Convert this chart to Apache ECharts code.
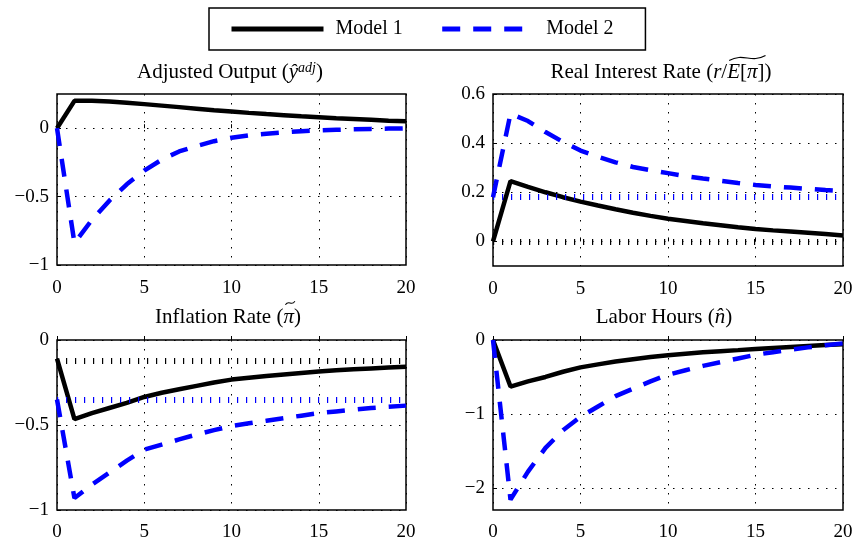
<!DOCTYPE html>
<html>
<head>
<meta charset="utf-8">
<script src="https://cdn.jsdelivr.net/npm/echarts@6/dist/echarts.min.js"></script>
<style>
html, body { margin: 0; padding: 0; background: #fff; }
#chart { width: 856px; height: 539px; }
</style>
</head>
<body>
<div id="chart"></div>
<script>
// quarters after the shock
const steps = [0, 1, 2, 3, 4, 5, 6, 7, 8, 9, 10, 11, 12, 13, 14, 15, 16, 17, 18, 19, 20];

// adjusted output
const outputM1 = [0, 0.2, 0.2, 0.195, 0.186, 0.176, 0.165, 0.154, 0.143, 0.132, 0.122, 0.112, 0.103, 0.095, 0.087, 0.080, 0.073, 0.067, 0.061, 0.055, 0.05];
const outputM2 = [0, -0.84, -0.67, -0.53, -0.41, -0.31, -0.23, -0.17, -0.13, -0.095, -0.07, -0.052, -0.04, -0.03, -0.022, -0.016, -0.012, -0.008, -0.005, -0.003, -0.001];

// real interest rate
const rateM1 = [0, 0.245, 0.222, 0.2, 0.18, 0.162, 0.146, 0.131, 0.117, 0.104, 0.092, 0.083, 0.074, 0.066, 0.058, 0.051, 0.045, 0.04, 0.035, 0.03, 0.024];
const rateM2 = [0.18, 0.52, 0.49, 0.445, 0.405, 0.37, 0.345, 0.322, 0.303, 0.29, 0.278, 0.266, 0.256, 0.247, 0.238, 0.23, 0.224, 0.219, 0.214, 0.209, 0.205];
const rateRefM1 = 0;
const rateRefM2 = 0.185;

// inflation rate
const inflM1 = [-0.11, -0.465, -0.43, -0.4, -0.37, -0.335, -0.31, -0.29, -0.27, -0.25, -0.233, -0.222, -0.212, -0.203, -0.194, -0.185, -0.178, -0.172, -0.167, -0.162, -0.158];
const inflM2 = [-0.35, -0.93, -0.85, -0.78, -0.71, -0.645, -0.615, -0.585, -0.556, -0.53, -0.506, -0.49, -0.475, -0.46, -0.445, -0.43, -0.42, -0.41, -0.4, -0.393, -0.386];
const inflRefM1 = -0.118;
const inflRefM2 = -0.35;

// labor hours
const hoursM1 = [0, -0.63, -0.56, -0.5, -0.43, -0.37, -0.33, -0.29, -0.26, -0.23, -0.205, -0.185, -0.167, -0.151, -0.137, -0.122, -0.108, -0.095, -0.082, -0.069, -0.056];
const hoursM2 = [0, -2.16, -1.78, -1.46, -1.22, -1.04, -0.9, -0.76, -0.66, -0.56, -0.47, -0.41, -0.35, -0.3, -0.25, -0.2, -0.165, -0.13, -0.1, -0.07, -0.045];

const xTicks = [0, 5, 10, 15, 20];
const outputTicks = [-1, -0.5, 0];
const rateTicks = [0, 0.2, 0.4, 0.6];
const inflTicks = [-1, -0.5, 0];
const hoursTicks = [-2, -1, 0];

const FONT = 'Liberation Serif';
const TITLE_SIZE = 21;
const SUP_SIZE = 14;
const BLUE = '#0000ff';

// title pieces: [text, style]; style n = upright, i = italic, s = italic superscript
const outputTitle = [['Adjusted Output (', 'n'], ['ŷ', 'i'], ['adj', 's'], [')', 'n']];
const rateTitle = [['Real Interest Rate (', 'n'], ['r', 'i'], ['/', 'n'], ['E', 'i'], ['[', 'n'], ['π', 'i'], [']', 'n'], [')', 'n']];
const inflTitle = [['Inflation Rate (', 'n'], ['π', 'i'], [')', 'n']];
const hoursTitle = [['Labor Hours (', 'n'], ['n̂', 'i'], [')', 'n']];

const panels = [
  { title: outputTitle, tilde: null, m1: outputM1, m2: outputM2,
    yMin: -1, yMax: 0.25, yTicks: outputTicks, refs: [],
    grid: { left: 57, top: 94, width: 349, height: 171 }, tx: 230, ty: 72 },
  { title: rateTitle, tilde: [3, 6], m1: rateM1, m2: rateM2,
    yMin: -0.1, yMax: 0.6, yTicks: rateTicks, refs: [rateRefM1, rateRefM2],
    grid: { left: 493, top: 94, width: 350, height: 172 }, tx: 661, ty: 72 },
  { title: inflTitle, tilde: [1, 1], m1: inflM1, m2: inflM2,
    yMin: -1, yMax: 0, yTicks: inflTicks, refs: [inflRefM1, inflRefM2],
    grid: { left: 57, top: 340, width: 349, height: 170 }, tx: 228, ty: 317 },
  { title: hoursTitle, tilde: null, m1: hoursM1, m2: hoursM2,
    yMin: -2.3, yMax: 0, yTicks: hoursTicks, refs: [],
    grid: { left: 493, top: 340, width: 350, height: 170 }, tx: 664, ty: 317 }
];

const minus = v => String(v).replace('-', '\u2212');
const dotted = { color: '#000', width: 1, type: [1.5, 7.5] };

const ctx = document.createElement('canvas').getContext('2d');
function pieceWidth(p) {
  const size = p[1] === 's' ? SUP_SIZE : TITLE_SIZE;
  ctx.font = (p[1] === 'n' ? '' : 'italic ') + size + 'px "' + FONT + '"';
  return ctx.measureText(p[0]).width;
}

function refLine(value, color) {
  return {
    silent: true, symbol: 'none', animation: false,
    label: { show: false },
    lineStyle: { color: color, width: 6, type: [1.2, 7.8], cap: 'butt' },
    emphasis: { disabled: true },
    data: [{ yAxis: value }]
  };
}

const grids = [], xAxes = [], yAxes = [], series = [], graphics = [];
panels.forEach((p, i) => {
  grids.push(Object.assign({
    show: true, borderColor: '#000', borderWidth: 1.5, backgroundColor: 'transparent',
    containLabel: false, outerBoundsMode: 'none'
  }, p.grid));
  xAxes.push({
    type: 'value', gridIndex: i, min: 0, max: 20,
    axisLine: { show: false },
    axisTick: { show: true, inside: true, length: 4, customValues: xTicks, lineStyle: { color: '#000' } },
    axisLabel: { customValues: xTicks, fontFamily: FONT, fontSize: 19, color: '#000', margin: i < 2 ? 14 : 13 },
    splitLine: { show: true, lineStyle: dotted }
  });
  yAxes.push({
    type: 'value', gridIndex: i, min: p.yMin, max: p.yMax,
    axisLine: { show: false },
    axisTick: { show: true, inside: true, length: 4, customValues: p.yTicks, lineStyle: { color: '#000' } },
    axisLabel: { customValues: p.yTicks, fontFamily: FONT, fontSize: 19, color: '#000', margin: 8, formatter: minus },
    splitLine: { show: true, lineStyle: dotted }
  });
  const s1 = {
    name: 'Model 1', type: 'line', xAxisIndex: i, yAxisIndex: i,
    data: steps.map((x, k) => [x, p.m1[k]]),
    symbol: 'none', showSymbol: false, z: 3,
    lineStyle: { color: '#000', width: 4.5 }, itemStyle: { color: '#000' }
  };
  const s2 = {
    name: 'Model 2', type: 'line', xAxisIndex: i, yAxisIndex: i,
    data: steps.map((x, k) => [x, p.m2[k]]),
    symbol: 'none', showSymbol: false, z: 4,
    lineStyle: { color: BLUE, width: 4.5, type: [18, 13], cap: 'butt' }, itemStyle: { color: BLUE }
  };
  if (p.refs.length) {
    s1.markLine = refLine(p.refs[0], '#000');
    s2.markLine = refLine(p.refs[1], BLUE);
  }
  series.push(s1, s2);

  // panel title as rich text
  graphics.push({
    type: 'text', x: p.tx, y: p.ty,
    style: {
      text: p.title.map(t => '{' + t[1] + '|' + t[0] + '}').join(''),
      align: 'center', verticalAlign: 'middle',
      fontFamily: FONT, fontSize: TITLE_SIZE, fill: '#000',
      rich: {
        n: { fontFamily: FONT, fontSize: TITLE_SIZE, color: '#000' },
        i: { fontFamily: FONT, fontSize: TITLE_SIZE, fontStyle: 'italic', color: '#000' },
        s: { fontFamily: FONT, fontSize: SUP_SIZE, fontStyle: 'italic', color: '#000', verticalAlign: 'top', padding: [0, 0, 8, 0] }
      }
    }
  });
  // tilde accent over part of the title
  if (p.tilde) {
    const widths = p.title.map(pieceWidth);
    const total = widths.reduce((a, b) => a + b, 0);
    let x0 = p.tx - total / 2;
    for (let k = 0; k < p.tilde[0]; k++) x0 += widths[k];
    let x1 = x0;
    for (let k = p.tilde[0]; k <= p.tilde[1]; k++) x1 += widths[k];
    x0 += 2; x1 += 1;
    const w = x1 - x0, y = p.ty - 14, h = w > 20 ? 2.5 : 1.8;
    graphics.push({
      type: 'bezierCurve',
      shape: { x1: x0, y1: y + h, cpx1: x0 + w * 0.4, cpy1: y - 2.2 * h, cpx2: x0 + w * 0.6, cpy2: y + 2.2 * h, x2: x1, y2: y - h },
      style: { stroke: '#000', lineWidth: 1.1, fill: null }
    });
  }
});

const chart = echarts.init(document.getElementById('chart'));
chart.setOption({
  animation: false,
  backgroundColor: '#fff',
  legend: {
    data: ['Model 1', 'Model 2'],
    left: 209, top: 8,
    padding: [11, 32, 11, 20],
    itemWidth: 92, itemHeight: 22, itemGap: 37,
    borderColor: '#000', borderWidth: 1.5,
    selectedMode: false,
    itemStyle: { opacity: 0 },
    lineStyle: { width: 5 },
    textStyle: { fontFamily: FONT, fontSize: 20, color: '#000', padding: [0, 0, 0, 7] }
  },
  graphic: graphics,
  grid: grids,
  xAxis: xAxes,
  yAxis: yAxes,
  series: series
});
</script>
</body>
</html>
